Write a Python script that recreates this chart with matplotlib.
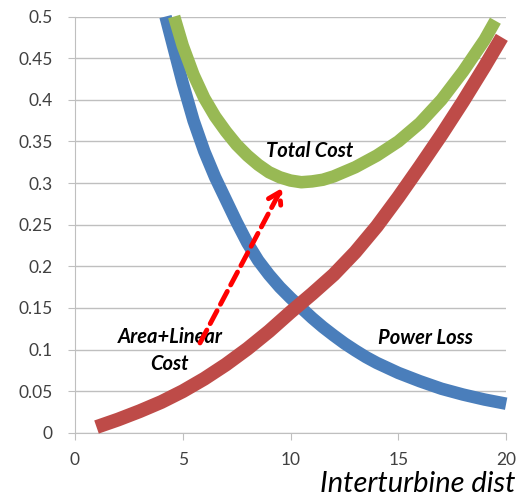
"""Total cost vs interturbine distance"""
import matplotlib
matplotlib.use('Agg')
import matplotlib.pyplot as plt

plt.rcParams['font.family'] = ['Lato', 'DejaVu Sans']

# Power loss (blue)
loss_x = [4.2, 4.5, 5, 5.5, 6, 6.5, 7, 7.5, 8, 8.5, 9, 9.5, 10, 10.5, 11, 11.5,
          12, 12.5, 13, 13.5, 14, 14.5, 15, 16, 17, 18, 19, 20]
loss_y = [0.50, 0.47, 0.42, 0.375, 0.338, 0.307, 0.28, 0.253, 0.228, 0.207,
          0.19, 0.175, 0.162, 0.15, 0.138, 0.127, 0.117, 0.1075, 0.099, 0.091,
          0.084, 0.078, 0.072, 0.062, 0.053, 0.046, 0.040, 0.035]

# Area + linear cost (red)
area_x = [1, 2, 3, 4, 5, 6, 7, 8, 9, 10, 11, 12, 13, 14, 15, 16, 17, 18, 19, 19.8]
area_y = [0.007, 0.016, 0.026, 0.037, 0.05, 0.065, 0.082, 0.101, 0.122, 0.145,
          0.167, 0.19, 0.217, 0.248, 0.283, 0.32, 0.358, 0.398, 0.44, 0.475]

# Total cost (green)
total_x = [4.6, 5, 5.5, 6, 6.5, 7, 7.5, 8, 8.5, 9, 9.5, 10, 10.5, 11, 11.5, 12,
           13, 14, 15, 16, 17, 18, 19, 19.5]
total_y = [0.50, 0.465, 0.43, 0.402, 0.38, 0.362, 0.346, 0.333, 0.322, 0.313,
           0.307, 0.303, 0.301, 0.302, 0.304, 0.308, 0.319, 0.333, 0.35, 0.372,
           0.40, 0.434, 0.472, 0.495]

# Arrow from label to optimum
arrow_start = (5.8, 0.108)
arrow_end = (9.6, 0.294)

fig = plt.figure(figsize=(5.17, 5.01), dpi=100)
ax = fig.add_axes([0.145, 0.136, 0.834, 0.831])

line_kw = dict(solid_capstyle='butt', solid_joinstyle='round', clip_on=False)
ax.plot(loss_x, loss_y, color='#4A7EBB', lw=9, zorder=3, **line_kw)
ax.plot(total_x, total_y, color='#98B954', lw=9, zorder=3, **line_kw)
ax.plot(area_x, area_y, color='#BE4B48', lw=10, zorder=4, **line_kw)

ax.annotate('', xy=arrow_end, xytext=arrow_start,
            arrowprops=dict(arrowstyle='->,head_length=0.8,head_width=0.5', color='red',
                            lw=3.5, linestyle=(0, (3, 1.5)), shrinkA=0, shrinkB=0),
            zorder=6)

txt_kw = dict(fontsize=14.5, fontweight='bold', fontstyle='italic',
              ha='center', va='center', zorder=5)
ax.text(10.9, 0.338, 'Total Cost', **txt_kw)
ax.text(16.25, 0.114, 'Power Loss', **txt_kw)
ax.text(4.4, 0.0985, 'Area+Linear\nCost', linespacing=1.45, **txt_kw)

ax.set_xlim(0, 20)
ax.set_ylim(0, 0.5)
ax.set_xticks([0, 5, 10, 15, 20])
ax.set_yticks([0, 0.05, 0.1, 0.15, 0.2, 0.25, 0.3, 0.35, 0.4, 0.45, 0.5])
ax.set_yticklabels(['0', '0.05', '0.1', '0.15', '0.2', '0.25', '0.3', '0.35', '0.4', '0.45', '0.5'])
ax.grid(axis='y', color='#BFBFBF', lw=1)
ax.set_axisbelow(True)
for s in ['top', 'right']:
    ax.spines[s].set_visible(False)
for s in ['left', 'bottom']:
    ax.spines[s].set_color('#BFBFBF')
ax.tick_params(axis='both', colors='#BFBFBF', labelcolor='#404040', labelsize=12.5, length=5)
ax.tick_params(axis='x', pad=9)
ax.tick_params(axis='y', pad=11)

fig.text(0.997, 0.018, 'Interturbine dist', fontsize=21, fontstyle='italic',
         ha='right', va='baseline')

fig.savefig('out.png', dpi=100)
